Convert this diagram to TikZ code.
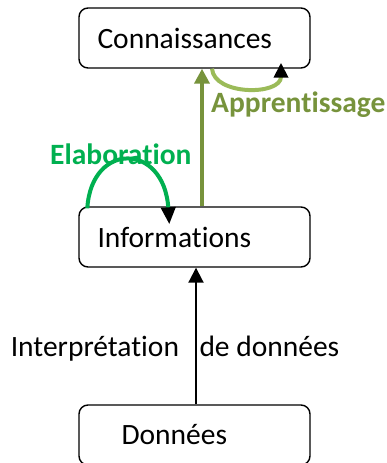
\documentclass[tikz,border=0pt]{standalone}
\usepackage{fontspec}
\setmainfont{Carlito}[Ligatures=NoCommon]
\usepackage{tikz}
\usetikzlibrary{arrows.meta}
\definecolor{appgreen}{HTML}{77933C}
\definecolor{arcgreen}{HTML}{9BBB59}
\definecolor{elabgreen}{HTML}{00B050}

\begin{document}
\begin{tikzpicture}[x=1pt,y=-1pt,
  box/.style={draw,rectangle,rounded corners=9pt,line width=1.4pt,minimum width=231pt,minimum height=60pt,text width=194pt,inner xsep=18.5pt,align=left,font=\fontsize{29.5}{35}\selectfont},
  lbl/.style={inner sep=0pt,font=\fontsize{29.5}{35}\selectfont},
  tip/.style={-{Triangle[length=15pt,width=15pt,#1]}}]
\useasboundingbox (0,0) rectangle (386,463);

\node [box] (conn) at(194.5,38){Connaissances};
\node [box] (info) at(194.5,237){Informations};
\node [box] (donn) at(194.5,435){\hspace*{24pt}Données};

\node [lbl,elabgreen,font=\fontsize{29.5}{35}\selectfont\bfseries,anchor=base west] (elab) at(50,164){Elaboration};
\node [lbl,appgreen,font=\fontsize{29.5}{35}\selectfont\bfseries,anchor=base west] (appr) at(211,112){Apprentissage};

\draw [line width=2pt,tip] ([xshift=1.5pt]donn.north) -- ([xshift=1.5pt]info.south)
  node [lbl,pos=.348,anchor=base east,xshift=-16pt] (interp){Interprétation}
  node [lbl,pos=.348,anchor=base west,xshift=2.5pt] (dedon){de données};
\draw [line width=4.5pt,appgreen,tip] ([xshift=7.5pt]info.north) -- ([xshift=7.5pt]conn.south);
%boucles
\draw [line width=4pt,elabgreen,-{Triangle[length=17pt,width=14pt,color=black]}] ([xshift=9pt,yshift=-2pt]info.north west) .. controls +(4,-67) and +(-5,-82) .. ([xshift=91pt,yshift=-18pt]info.north west);
\draw [line width=4pt,arcgreen,-{Triangle[length=15pt,width=14pt,color=black]}] ([xshift=17.5pt]conn.south) .. controls +(2,27) and +(0,33) .. ([xshift=86.5pt,yshift=6pt]conn.south);
\end{tikzpicture}
\end{document}
